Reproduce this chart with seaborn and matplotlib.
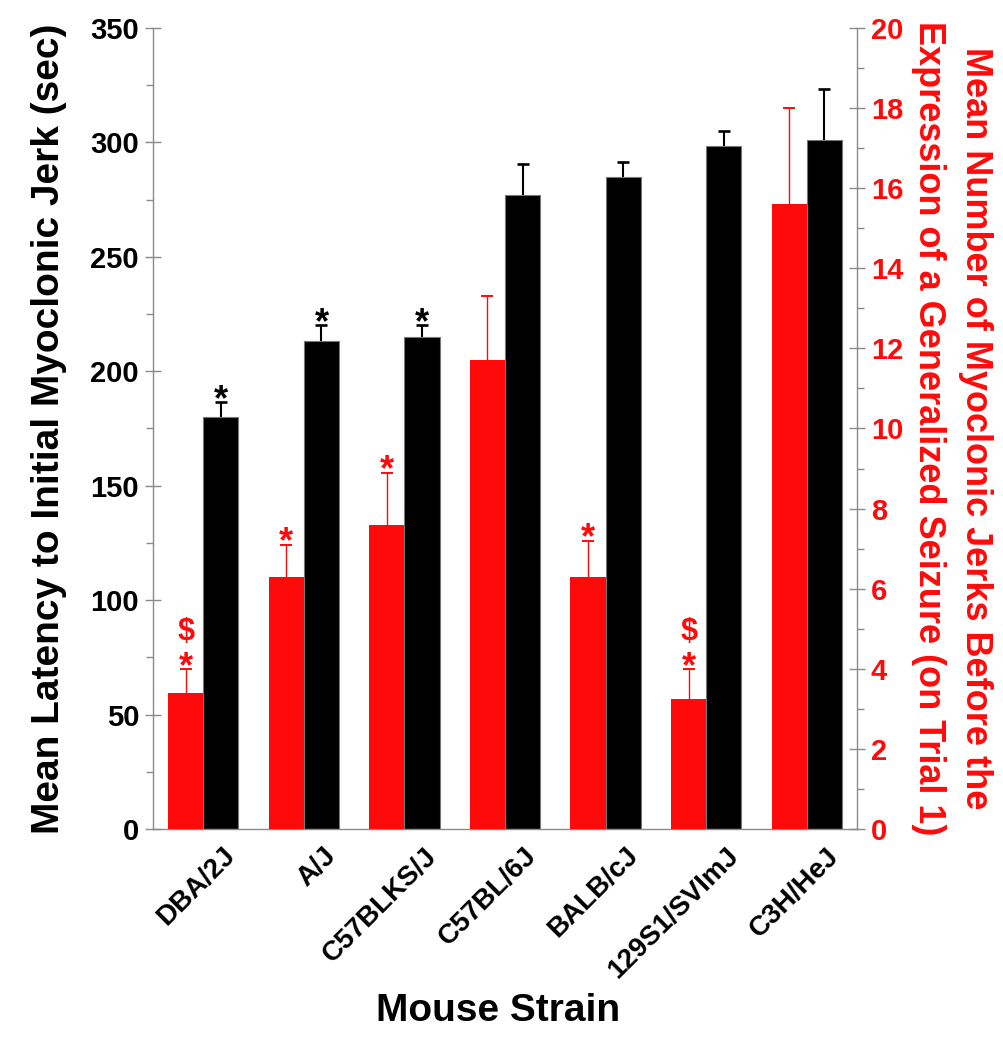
import numpy as np
import pandas as pd
import seaborn as sns
import matplotlib.pyplot as plt
from matplotlib.ticker import MultipleLocator, FixedLocator, NullFormatter
from matplotlib.transforms import ScaledTranslation

sns.set_style('white')
plt.rcParams['font.family'] = ['Liberation Sans', 'DejaVu Sans']
plt.rcParams['font.weight'] = 'bold'
plt.rcParams['text.color'] = 'black'
plt.rcParams['axes.labelcolor'] = 'black'
plt.rcParams['xtick.labelcolor'] = 'black'
plt.rcParams['ytick.labelcolor'] = 'black'

# values
strains = ['DBA/2J', 'A/J', 'C57BLKS/J', 'C57BL/6J', 'BALB/cJ', '129S1/SVImJ', 'C3H/HeJ']
jerks = [3.4, 6.3, 7.6, 11.7, 6.3, 3.25, 15.6]
jerks_err = [0.6, 0.8, 1.3, 1.6, 0.9, 0.75, 2.4]
latency = [180, 213, 215, 277, 285, 298.5, 301]
latency_err = [6.5, 7, 5, 13.5, 6.5, 6.5, 22.5]
jerks_marks = ['*$', '*', '*', '', '*', '*$', '']
latency_marks = ['*', '*', '*', '', '', '', '']

red = '#ff0a0a'
grey = '#8a8a8a'

df_jerks = pd.DataFrame({'strain': strains, 'value': jerks, 'series': 'jerks'})
df_lat = pd.DataFrame({'strain': strains, 'value': latency, 'series': 'latency'})
hue_order = ['jerks', 'latency']
palette = {'jerks': red, 'latency': 'black'}

fig = plt.figure(figsize=(10.04, 10.5), dpi=100)
ax = fig.add_axes([0.1524, 0.2105, 0.7012, 0.7629])
ax2 = ax.twinx()

sns.barplot(data=df_jerks, x='strain', y='value', hue='series', hue_order=hue_order,
            palette=palette, width=0.7, dodge=True, saturation=1, order=strains,
            legend=False, ax=ax2, edgecolor='none', linewidth=0)
sns.barplot(data=df_lat, x='strain', y='value', hue='series', hue_order=hue_order,
            palette=palette, width=0.7, dodge=True, saturation=1, order=strains,
            legend=False, ax=ax, edgecolor='#777777', linewidth=0.8)


def centers(a):
    xs = sorted(p.get_x() + p.get_width() / 2 for p in a.patches if p.get_height() > 0)
    return np.array(xs)


x_red = centers(ax2)
x_blk = centers(ax)


def upper_errors(a, xs, vals, errs, color, lw):
    # one-sided error bars: stem from the bar top, cap only at the upper end
    tops = np.array(vals) + np.array(errs)
    a.errorbar(xs, vals, yerr=[np.zeros(len(vals)), errs], fmt='none',
               ecolor=color, elinewidth=lw, capsize=0)
    a.plot(xs, tops, ls='none', marker='_', ms=9, mew=lw + 0.4, color=color)


upper_errors(ax2, x_red, jerks, jerks_err, red, 1.0)
upper_errors(ax, x_blk, latency, latency_err, 'black', 1.5)


def put_marks(a, xs, vals, errs, marks, color):
    for x, v, e, m in zip(xs, vals, errs, marks):
        top = v + e
        if '*' in m:
            a.annotate('*', (x, top), xytext=(0, -5.8), textcoords='offset points',
                       ha='center', va='baseline', fontsize=26, fontweight='bold', color=color)
        if '$' in m:
            a.annotate('$', (x, top), xytext=(0, 20.7), textcoords='offset points',
                       ha='center', va='baseline', fontsize=22, fontweight='bold', color=color)


put_marks(ax2, x_red, jerks, jerks_err, jerks_marks, red)
put_marks(ax, x_blk, latency, latency_err, latency_marks, 'black')

# axes limits and ticks
ax.set_ylim(0, 350)
ax2.set_ylim(0, 20)
ax.set_xlim(-0.5, len(strains) - 0.5)
ax.yaxis.set_major_locator(MultipleLocator(50))
ax.yaxis.set_minor_locator(MultipleLocator(25))
ax2.yaxis.set_major_locator(MultipleLocator(2))
ax2.yaxis.set_minor_locator(MultipleLocator(1))

ax.set_xticks(range(len(strains)))
ax.set_xticklabels(strains)
ax.xaxis.set_minor_locator(FixedLocator(np.arange(-0.5, len(strains), 1.0)))
ax.xaxis.set_minor_formatter(NullFormatter())
ax.tick_params(axis='x', which='major', length=0, pad=10)
ax.tick_params(axis='x', which='minor', length=12, width=1, direction='inout', color=grey)
for lab in ax.get_xticklabels():
    lab.set_rotation(45)
    lab.set_rotation_mode('anchor')
    lab.set_ha('right')
    lab.set_va('top')
    lab.set_fontsize(20)
    lab.set_fontweight('bold')
    lab.set_color('black')
    lab.set_transform(lab.get_transform() + ScaledTranslation(0.19, 0, fig.dpi_scale_trans))

ax.tick_params(axis='y', which='major', length=12, width=1, direction='inout', color=grey,
               labelsize=21, labelcolor='black', pad=4, left=True)
ax.tick_params(axis='y', which='minor', length=5, width=1, direction='out', color=grey, left=True)
ax2.tick_params(axis='y', which='major', length=12, width=1, direction='inout', color=grey,
                labelsize=21, labelcolor=red, pad=4, right=True)
ax2.tick_params(axis='y', which='minor', length=5, width=1, direction='out', color=grey, right=True)
for lab in ax.get_yticklabels() + ax2.get_yticklabels():
    lab.set_fontweight('bold')

for s in ['top', 'right']:
    ax.spines[s].set_visible(False)
for s in ['top', 'left', 'bottom']:
    ax2.spines[s].set_visible(False)
for s in ['left', 'bottom']:
    ax.spines[s].set_color(grey)
    ax.spines[s].set_linewidth(1)
ax2.spines['right'].set_color(grey)
ax2.spines['right'].set_linewidth(1)

ax2.set_ylabel('')
ax2.set_xlabel('')
ax.set_xlabel('Mouse Strain', fontsize=28, fontweight='bold', color='black')
ax.xaxis.set_label_coords(0.49, -0.205)
ax.set_ylabel('Mean Latency to Initial Myoclonic Jerk (sec)', fontsize=28, fontweight='bold',
              color='black')
ax.yaxis.set_label_coords(-0.122, 0.5)

fig.text(952 / 1004, 1 - 428 / 1050,
         'Mean Number of Myoclonic Jerks Before the\nExpression of a Generalized Seizure (on Trial 1)',
         rotation=270, ha='center', va='center', multialignment='center',
         fontsize=26, fontweight='bold', color=red, linespacing=1.45)

fig.savefig('out.png', dpi=100)
